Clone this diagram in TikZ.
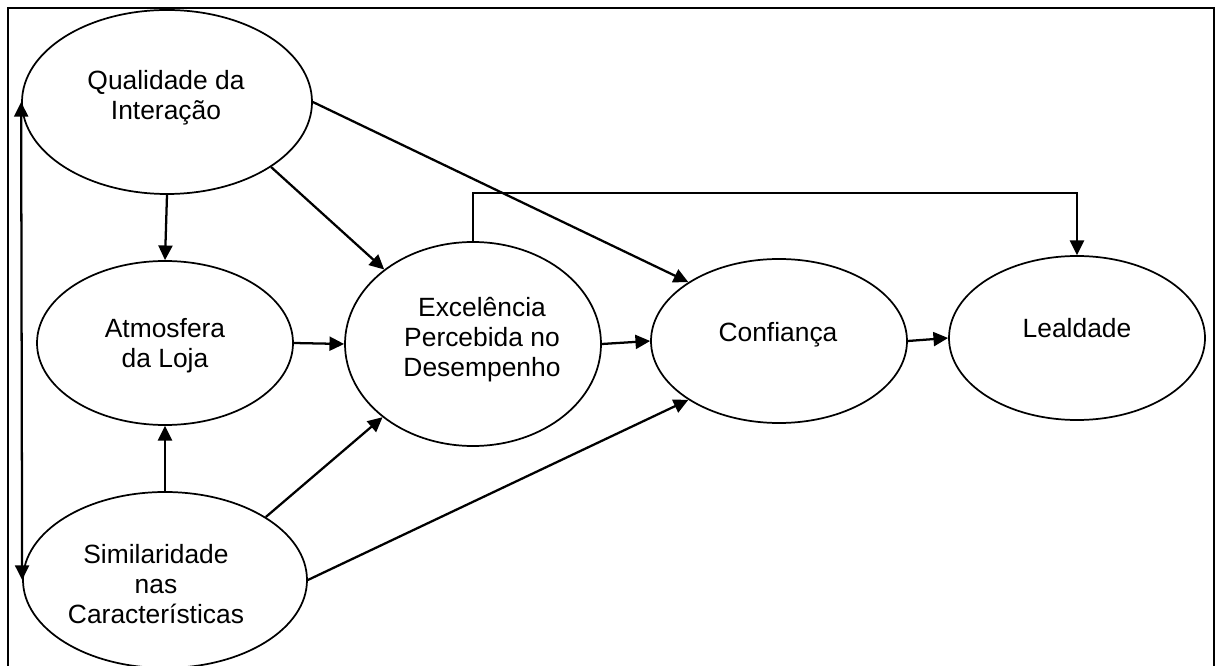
\documentclass[tikz,border=0pt]{standalone}
\usepackage{fontspec}
\setmainfont{Liberation Sans}
\usetikzlibrary{arrows.meta,shapes.geometric}
\begin{document}
\begin{tikzpicture}[x=0.75pt,y=-0.75pt,
  construct/.style={ellipse,draw,line width=1.3pt,inner sep=0pt},
  caption/.style={font=\fontsize{19.8}{22.5}\selectfont,align=center,inner sep=0pt},
  link/.style={line width=1.7pt,-{Triangle[length=11pt,width=10.5pt]}},
  twoway/.style={line width=1.7pt,{Triangle[length=11pt,width=10.5pt]}-{Triangle[length=11pt,width=10.5pt]}},
]
\useasboundingbox (0,0) rectangle (1218,666);
% outer frame
\draw[line width=1.2pt] (8,8) rectangle (1214,700);

% constructs
\node[construct,minimum width=217.5pt,minimum height=138pt] (qual) at (167,102) {};
\node[construct,minimum width=192pt,minimum height=123pt] (atmo) at (165,343) {};
\node[construct,minimum width=192pt,minimum height=153pt] (exce) at (473,344) {};
\node[construct,minimum width=192pt,minimum height=123pt] (conf) at (779,341) {};
\node[construct,minimum width=192pt,minimum height=123pt] (leal) at (1077,338) {};
\node[construct,minimum width=213pt,minimum height=132pt] (simi) at (165,580) {};

% labels
\node[caption] (tqual) at (166,98) {Qualidade da\\Interação};
\node[caption] (tatmo) at (165,346) {Atmosfera\\da Loja};
\node[caption] (texce) at (482,340) {Excelência\\Percebida no\\Desempenho};
\node[caption] (tconf) at (778,335) {Confiança};
\node[caption] (tleal) at (1077,328) {Lealdade};
\node[caption] (tsimi) at (156,584) {Similaridade\\nas\\Características};

% paths
\draw[link] (qual.south) -- (atmo.north);
\draw[link] (qual.-32.5) -- (exce.140.6);
\draw[link] (qual.0.8) -- (conf.147.8);
\draw[link] (atmo.east) -- (exce.west);
\draw[link] (simi.north) -- (atmo.south);
\draw[link] (simi.32) -- (exce.-141.3);
\draw[link] (simi.east) -- (conf.-147.5);
\draw[link] (exce.east) -- (conf.west);
\draw[link] (conf.east) -- (leal.west);
\coordinate (bend) at (1077,193);
\draw[link] (exce.north) |- (bend) -- (leal.north);
\draw[twoway] (qual.west) -- (simi.west);
\end{tikzpicture}
\end{document}
